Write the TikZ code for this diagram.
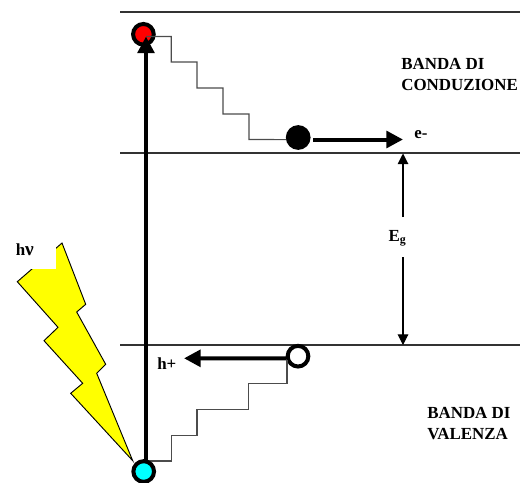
\documentclass[tikz,border=0pt]{standalone}
\usepackage{fontspec}
\setmainfont{Liberation Serif}
\usetikzlibrary{arrows.meta}
\definecolor{flash}{rgb}{1,1,0}
\definecolor{holeblue}{rgb}{0,1,1}
\definecolor{elred}{rgb}{1,0,0}
\tikzset{
  level/.style={draw=black!80,line width=0.8pt},
  stair/.style={draw=black!70,line width=0.9pt},
  carrier/.style={circle,draw=black,line width=3pt,inner sep=0pt,minimum size=15.5pt},
  thickarrow/.style={line width=3pt,-{Triangle[length=12.5pt,width=12.5pt]}},
  gaparrow/.style={line width=0.8pt,-{Triangle[length=8pt,width=8pt]}},
  lbl/.style={font=\bfseries\fontsize{12.7}{15.75}\selectfont,inner sep=0pt,align=left}
}
\begin{document}
\begin{tikzpicture}[x=0.75pt,y=0.75pt,yscale=-1,xscale=1]
\useasboundingbox (0,0) rectangle (524,482);

% bands
\draw [level] (120,12) -- (520,12);
\draw [level] (120,153) -- (520,153);
\draw [level] (120,345) -- (520,345);

% flash
\draw [fill=flash,line width=0.7pt] (62,243) -- (85.7,304.3) -- (76.7,312) -- (105.7,364.3) -- (96.7,373.3) -- (132.7,460.7) -- (70.7,393.3) -- (82.7,383.3) -- (44,340.7) -- (58,327.3) -- (17.3,281.7) -- cycle;
\node (hnu) [fill=white,anchor=south east,minimum width=45pt,minimum height=28pt,inner sep=0pt] at (56.7,269.3) {};
\node (hnutext) [lbl,anchor=base west] at (15.5,255) {h{\fontsize{14.5}{15}\selectfont ν}};

% stairs
\coordinate (top) at (146,36.5);
\coordinate (bot) at (146,461);
\node (exc) [carrier,fill=elred] at (143.4,34.3) {};
\node (el) [carrier,fill=black] at (298.2,137.5) {};
\node (ho) [carrier,fill=white] at (298,356.2) {};
\draw [stair] (top) -- (171.3,36.5) -- (171.3,62) -- (197,62) -- (197,88) -- (223,88) -- (223,114) -- (249,114) -- (249,139.5) -- (el.190);
\draw [stair] (bot) -- (171.7,461) -- (171.7,435.7) -- (197,435.7) -- (197,409.7) -- (248.3,409.7) -- (248.3,383.7) -- (287,383.7) -- (287,360);

\draw [thickarrow] (146,463) -- (top);
\node (gnd) [carrier,fill=holeblue] at (143.7,471.5) {};

% carriers moving
\coordinate (estart) at (313,139.5);
\coordinate (eend) at (403,139.5);
\coordinate (hend) at (184,358.3);
\draw [thickarrow] (estart) -- (eend);
\draw [thickarrow] (ho.190) -- (hend);

% gap
\node (eg) [lbl,anchor=center] at (397.5,238) {E\textsubscript{g}};
\coordinate (egtop) at (403,153.5);
\coordinate (egbot) at (403,345);
\draw [gaparrow] (403,217) -- (egtop);
\draw [gaparrow] (403,257) -- (egbot);

% labels
\node (cond) [lbl,anchor=north west] at (401,58) {BANDA DI\\CONDUZIONE};
\node (val) [lbl,anchor=north west] at (427,407) {BANDA DI\\VALENZA};
\node (emin) [lbl,anchor=base west] at (414,138) {e-};
\node (hplus) [lbl,anchor=base west] at (157,369) {h+};
\end{tikzpicture}
\end{document}
